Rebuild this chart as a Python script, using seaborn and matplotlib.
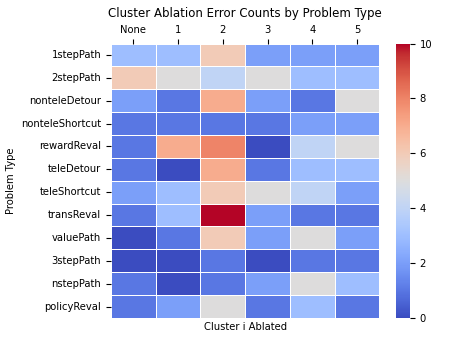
import matplotlib
matplotlib.use("Agg")
import matplotlib.pyplot as plt
import seaborn as sns
import pandas as pd

problem_types = ["1stepPath", "2stepPath", "nonteleDetour", "nonteleShortcut",
                 "rewardReval", "teleDetour", "teleShortcut", "transReval",
                 "valuePath", "3stepPath", "nstepPath", "policyReval"]
clusters = ["None", "1", "2", "3", "4", "5"]

col_none = [3, 6, 2, 1, 1, 1, 2, 1, 0, 0, 1, 1]
col_1 = [3, 5, 1, 1, 7, 0, 3, 3, 1, 0, 0, 2]
col_2 = [6, 4, 7, 1, 8, 7, 6, 10, 6, 1, 1, 5]
col_3 = [2, 5, 2, 1, 0, 1, 5, 2, 2, 0, 2, 1]
col_4 = [2, 3, 1, 2, 4, 3, 4, 1, 5, 1, 5, 3]
col_5 = [2, 3, 5, 2, 5, 3, 2, 1, 2, 1, 3, 1]

df = pd.DataFrame({"None": col_none, "1": col_1, "2": col_2,
                   "3": col_3, "4": col_4, "5": col_5}, index=problem_types)

fs = 7.2
fig = plt.figure(figsize=(4.57, 3.43), dpi=100)
ax = fig.add_axes([0.243, 0.073, 0.587, 0.80])
cax = fig.add_axes([0.866, 0.073, 0.031, 0.80])
sns.heatmap(df, ax=ax, cbar_ax=cax, cmap="coolwarm", vmin=0, vmax=10,
            linewidths=0.5, linecolor="white")
ax.xaxis.tick_top()
ax.xaxis.set_label_position("bottom")
ax.set_xlabel("Cluster i Ablated", fontsize=fs, labelpad=3)
ax.set_ylabel("Problem Type", fontsize=fs, labelpad=4)
ax.tick_params(labelsize=fs)
ax.tick_params(axis="x", pad=2.5)
ax.set_xticklabels(clusters, rotation=0)
ax.set_yticklabels(problem_types, rotation=0)
cax.tick_params(labelsize=fs)
cax.set_yticks([0, 2, 4, 6, 8, 10])
ax.set_title("Cluster Ablation Error Counts by Problem Type", fontsize=8.5, pad=6)
fig.savefig("out.png", dpi=100)
